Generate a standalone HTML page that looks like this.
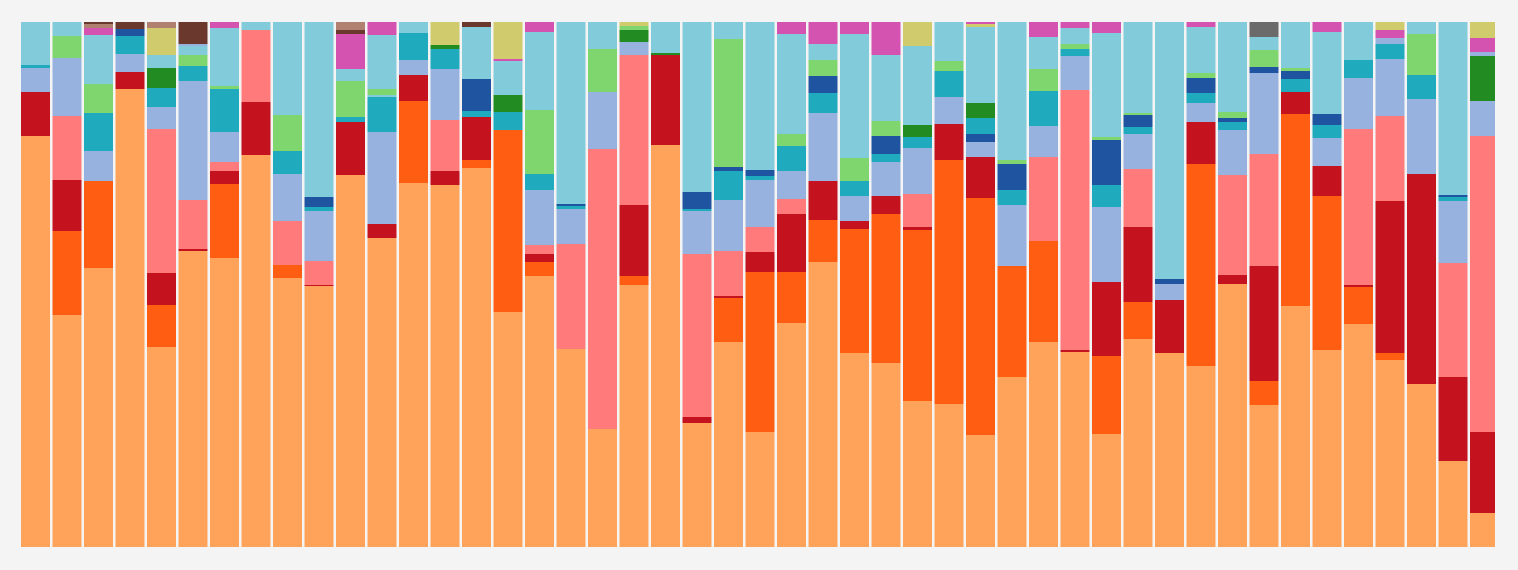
<!DOCTYPE html>
<html><head><meta charset="utf-8"><style>
html,body{margin:0;padding:0;background:#f4f4f4;width:1518px;height:570px;overflow:hidden}
svg{display:block}
</style></head><body>
<svg id="s" width="1518" height="570" xmlns="http://www.w3.org/2000/svg">
<rect x="0" y="0" width="1518" height="570" fill="#f4f4f4"/>
</svg>
<script>
const C={o:"#ffa35a",d:"#ff5e12",r:"#c4121f",p:"#ff7b7b",v:"#97b2de",t:"#1faabd",b:"#1f55a0",g:"#80d66e",G:"#228b22",l:"#82cbda",m:"#d452b0",y:"#d0cc6e",n:"#6b382e",a:"#b08070",x:"#6b6b6b"};
const bars=[
"o136 r92 v68 t65 l22",
"o315 d231 r180 p116 v58 g36 l22",
"o268 d181 v151 t113 g84 l35 m28 a24 n22",
"o89 r72 v54 t36 b29 n22",
"o347 d305 r273 p129 v107 t88 G68 l55 y28 a22",
"o251 r249 p200 v81 t66 g55 l46 v44 n22",
"o258 d184 r171 p162 v132 t89 g86 l28 m22",
"o155 r102 p30 l22",
"o278 d265 p221 v174 t151 g115 l22",
"o286 r285 p261 v211 t207 b197 l22",
"o175 r122 t117 g81 l69 m34 n30 a22",
"o238 r224 v132 t97 l95 g89 l35 m22",
"o183 d101 r75 v60 t33 l22",
"o185 r171 p120 v69 t49 G45 y22",
"o168 d160 r117 t111 b79 l27 n22",
"o312 d130 t112 G95 l61 m59 y22",
"o276 d262 r254 p245 v190 t174 g110 l32 m22",
"o349 p244 v209 t206 b204 l22",
"o429 p149 v92 g49 l22",
"o285 d276 r205 p55 v42 G30 g26 y22",
"o145 r55 G53 l22",
"o423 r417 p254 v211 t209 b192 l22",
"o342 d298 r296 p251 v200 t171 b167 g39 l22",
"o432 d272 r252 p227 v180 t176 b170 l22",
"o323 d272 r214 p199 v171 t146 g134 l34 m22",
"o262 d220 r181 v113 t93 b76 g60 l44 m22",
"o353 d229 r221 v196 t181 g158 l34 m22",
"o363 d214 r196 v162 t154 b136 g121 l55 m22",
"o401 d230 r227 p194 v148 t137 G125 l46 y22",
"o404 d160 r124 v97 t71 g61 l22",
"o435 d198 r157 v142 b134 t118 G103 l27 y24 m22",
"o377 d266 v205 t190 b164 g160 l22",
"o342 d241 p157 v126 t91 g69 l37 m22",
"o352 r350 p90 v56 t49 g44 l28 m22",
"o434 d356 r282 v207 t185 b140 g137 l33 m22",
"o339 d302 r227 p169 v134 t127 b115 g113 l22",
"o353 r300 v284 b279 l22",
"o366 d164 r122 v103 t93 b78 g73 l27 m22",
"o284 r275 p175 v130 t122 b118 g112 l22",
"o405 d381 r266 p154 v73 b67 g50 l37 x22",
"o306 d114 r92 t79 b71 g68 l22",
"o350 d196 r166 v138 t125 b114 l32 m22",
"o324 d287 r285 p129 v78 t60 l22",
"o360 d353 r201 p116 v59 t44 v38 m30 y22",
"o384 r174 v99 t75 g34 l22",
"o461 r377 p263 v201 t197 b195 l22",
"o513 r432 p136 v101 G56 v52 m38 y22"];
const s=document.getElementById('s');let h='';
bars.forEach((b,i)=>{const x=21+i*31.5;const w=i==46?25:29;let bot=547;
b.split(' ').forEach(seg=>{const c=C[seg[0]];const y=+seg.slice(1);
h+=`<rect x="${x.toFixed(1)}" y="${y}" width="${w}" height="${bot-y}" fill="${c}"/>`;bot=y;});});
s.insertAdjacentHTML('beforeend',h);
</script>
</body></html>
